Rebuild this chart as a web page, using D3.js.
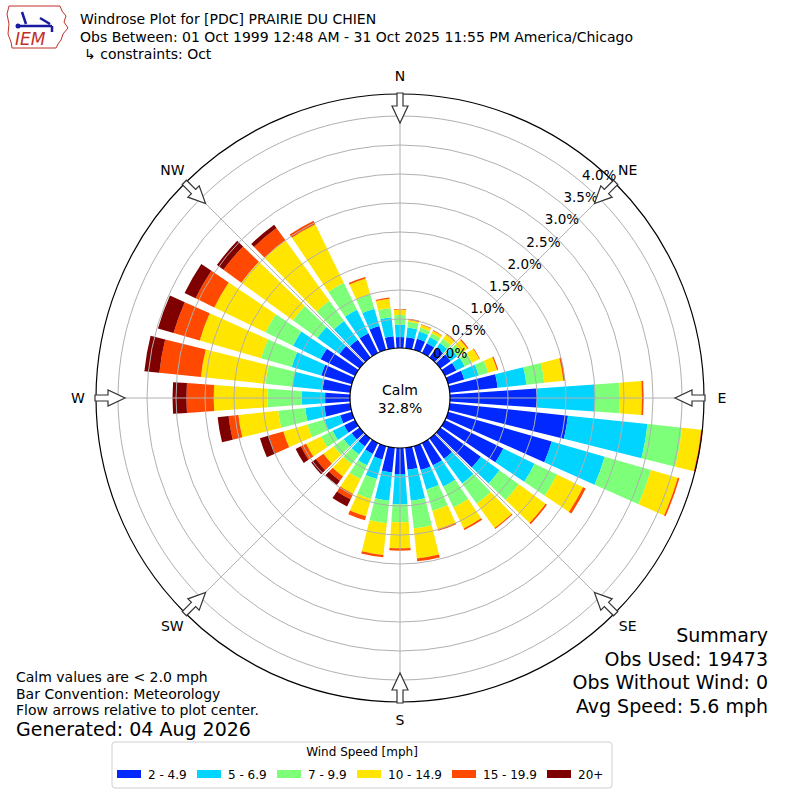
<!DOCTYPE html>
<html>
<head>
<meta charset="utf-8">
<script src="https://cdn.jsdelivr.net/npm/d3@7"></script>
<style>
  body { margin: 0; background: #fff; }
  text { font-family: "DejaVu Sans", sans-serif; }
</style>
</head>
<body>
<div id="chart"></div>
<script>
var width = 800, height = 800;

// directions (deg, meteorological) and speed bins
var directions = d3.range(0, 360, 10);
var speedBins = ["2 - 4.9", "5 - 6.9", "7 - 9.9", "10 - 14.9", "15 - 19.9", "20+"];
var binColors = ["#0028ff", "#00d4ff", "#7dff7a", "#ffe500", "#ff4800", "#7f0000"];

// percent of obs per direction, one array per speed bin
var bin2_5   = [0.19,0.19,0.20,0.19,0.21,0.22,0.22,0.29,0.83,1.50,2.05,1.86,1.12,0.86,0.43,0.43,0.43,0.38,
                0.45,0.43,0.24,0.21,0.17,0.17,0.21,0.21,0.45,0.43,0.48,0.55,0.66,0.43,0.38,0.38,0.43,0.21];
var bin5_7   = [0.21,0.17,0.13,0.12,0.10,0.14,0.16,0.26,0.50,1.00,1.38,0.95,0.60,0.40,0.53,0.41,0.35,0.54,
                0.52,0.49,0.35,0.22,0.17,0.17,0.22,0.28,0.33,0.40,0.52,0.53,0.53,0.47,0.40,0.45,0.31,0.33];
var bin7_10  = [0.17,0.10,0.07,0.07,0.09,0.10,0.14,0.17,0.31,0.43,0.60,0.83,0.43,0.41,0.43,0.40,0.38,0.48,
                0.31,0.39,0.36,0.26,0.21,0.21,0.22,0.31,0.47,0.59,0.47,0.55,0.53,0.52,0.43,0.52,0.26,0.16];
var bin10_15 = [0.09,0.03,0.05,0.05,0.09,0.12,0.14,0.16,0.33,0.38,0.33,0.48,0.50,0.57,0.52,0.40,0.33,0.52,
                0.45,0.55,0.31,0.29,0.26,0.22,0.29,0.43,0.69,0.93,1.12,1.10,0.98,1.10,1.29,1.12,0.28,0.16];
var bin15_20 = [0.01,0.02,0.01,0.01,0.02,0.02,0.01,0.02,0.03,0.03,0.03,0.03,0.05,0.03,0.02,0.03,0.03,0.05,
                0.04,0.04,0.07,0.10,0.09,0.16,0.10,0.26,0.17,0.47,0.72,0.47,0.36,0.38,0.26,0.07,0.03,0.02];
var bin20up  = [0,0,0,0,0,0,0,0,0,0,0,0,0,0,0,0,0,0,
                0,0,0,0.14,0.09,0.10,0.10,0.16,0.19,0.24,0.26,0.28,0.21,0.14,0.07,0,0,0];

var ringTicks = [0, 0.5, 1.0, 1.5, 2.0, 2.5, 3.0, 3.5, 4.0];
var compass = ["N", "NE", "E", "SE", "S", "SW", "W", "NW"];

var titleLines = ["Windrose Plot for [PDC] PRAIRIE DU CHIEN",
                  "Obs Between: 01 Oct 1999 12:48 AM - 31 Oct 2025 11:55 PM America/Chicago",
                  "\u21b3 constraints: Oct"];
var summaryLines = ["Summary", "Obs Used: 19473", "Obs Without Wind: 0", "Avg Speed: 5.6 mph"];
var noteLines = ["Calm values are < 2.0 mph", "Bar Convention: Meteorology", "Flow arrows relative to plot center."];
var calmPct = "32.8%";

var cx = 400, cy = 398;
var outerR = 304;

var svg = d3.select("#chart").append("svg")
  .attr("width", width)
  .attr("height", height);

var r = d3.scaleLinear().domain([0, 4]).range([50, 282]);

var rows = directions.map(function(d, i) {
  return {dir: d, b0: bin2_5[i], b1: bin5_7[i], b2: bin7_10[i], b3: bin10_15[i], b4: bin15_20[i], b5: bin20up[i]};
});
var keys = ["b0", "b1", "b2", "b3", "b4", "b5"];
var stacked = d3.stack().keys(keys)(rows);

var g = svg.append("g").attr("transform", "translate(" + cx + "," + cy + ")");
var rad = Math.PI / 180;

// bars
var arc = d3.arc()
  .innerRadius(function(d) { return r(d[0]); })
  .outerRadius(function(d) { return r(d[1]); })
  .startAngle(function(d) { return (d.data.dir - 4) * rad; })
  .endAngle(function(d) { return (d.data.dir + 4) * rad; });

g.append("g").selectAll("g")
  .data(stacked)
  .enter().append("g")
    .attr("fill", function(d, i) { return binColors[i]; })
  .selectAll("path")
  .data(function(d) { return d.filter(function(s) { return s[1] > s[0]; }); })
  .enter().append("path")
    .attr("d", arc);

// grid rings
g.append("g").selectAll("circle")
  .data(ringTicks.slice(1))
  .enter().append("circle")
    .attr("r", function(d) { return r(d); })
    .attr("fill", "none")
    .attr("stroke", "#b0b0b0")
    .attr("stroke-width", 1);

// radial lines every 45 deg
g.append("g").selectAll("line")
  .data(d3.range(0, 360, 45))
  .enter().append("line")
    .attr("x1", function(d) { return r(0) * Math.sin(d * rad); })
    .attr("y1", function(d) { return -r(0) * Math.cos(d * rad); })
    .attr("x2", function(d) { return outerR * Math.sin(d * rad); })
    .attr("y2", function(d) { return -outerR * Math.cos(d * rad); })
    .attr("stroke", "#b0b0b0")
    .attr("stroke-width", 1);

// outer circle
g.append("circle")
  .attr("r", outerR)
  .attr("fill", "none")
  .attr("stroke", "#000")
  .attr("stroke-width", 1.2);

// calm circle
g.append("circle")
  .attr("r", r(0))
  .attr("fill", "#fff")
  .attr("stroke", "#000")
  .attr("stroke-width", 1.2);

g.append("text")
  .attr("y", -3)
  .attr("text-anchor", "middle")
  .attr("font-size", 14)
  .text("Calm");
g.append("text")
  .attr("y", 15)
  .attr("text-anchor", "middle")
  .attr("font-size", 14)
  .text(calmPct);

// ring labels
g.append("g").selectAll("text")
  .data(ringTicks)
  .enter().append("text")
    .attr("x", function(d) { return r(d) * Math.sin(40 * rad) + 18; })
    .attr("y", function(d) { return -r(d) * Math.cos(40 * rad) - 7 + 5; })
    .attr("text-anchor", "middle")
    .attr("font-size", 13.5)
    .text(function(d) { return d.toFixed(1) + "%"; });

// flow arrows
var arrowPath = "M-3,-305 L3,-305 L3,-292 L8,-292 L0,-275 L-8,-292 L-3,-292 Z";
g.append("g").selectAll("path")
  .data(d3.range(0, 360, 45))
  .enter().append("path")
    .attr("d", arrowPath)
    .attr("transform", function(d) { return "rotate(" + d + ")"; })
    .attr("fill", "#fff")
    .attr("stroke", "#333")
    .attr("stroke-width", 1.2);

// compass labels
g.append("g").selectAll("text")
  .data(compass)
  .enter().append("text")
    .attr("x", function(d, i) { return 322 * Math.sin(i * 45 * rad); })
    .attr("y", function(d, i) { return -322 * Math.cos(i * 45 * rad) + 5; })
    .attr("text-anchor", "middle")
    .attr("font-size", 14)
    .text(function(d) { return d; });

// title
svg.append("g").selectAll("text")
  .data(titleLines)
  .enter().append("text")
    .attr("x", function(d, i) { return i == 2 ? 84 : 80; })
    .attr("y", function(d, i) { return 24 + i * 17.5; })
    .attr("font-size", 14)
    .text(function(d) { return d; });

// logo
var logo = svg.append("g").attr("transform", "translate(6,4)");
logo.append("path")
  .attr("d", "M3,2 L54,2 L56,7 L60,12 L58,18 L62,24 L57,30 L55,36 L52,40 L50,44 L6,44 L5,38 L2,30 L3,20 L1,10 Z")
  .attr("fill", "none")
  .attr("stroke", "#c0302a")
  .attr("stroke-width", 1);
logo.append("path")
  .attr("d", "M12,22 L46,22 M46,22 L46,28 M16,8 L20,20 M34,14 L44,20")
  .attr("stroke", "#1a1aa0")
  .attr("stroke-width", 2.5)
  .attr("fill", "none");
logo.append("circle").attr("cx", 12).attr("cy", 22).attr("r", 2.5).attr("fill", "#1a1aa0");
logo.append("text")
  .attr("x", 9)
  .attr("y", 41)
  .attr("font-family", "Liberation Serif, serif")
  .attr("font-style", "italic")
  .attr("font-size", 17)
  .attr("fill", "#c0302a")
  .text("IEM");

// summary block
svg.append("g").selectAll("text")
  .data(summaryLines)
  .enter().append("text")
    .attr("x", 768)
    .attr("y", function(d, i) { return 642 + i * 23.5; })
    .attr("text-anchor", "end")
    .attr("font-size", 19)
    .text(function(d) { return d; });

// notes
svg.append("g").selectAll("text")
  .data(noteLines)
  .enter().append("text")
    .attr("x", 16)
    .attr("y", function(d, i) { return 682 + i * 16.7; })
    .attr("font-size", 14)
    .text(function(d) { return d; });
svg.append("text")
  .attr("x", 16)
  .attr("y", 736)
  .attr("font-size", 19)
  .text("Generated: 04 Aug 2026");

// legend
var legend = svg.append("g");
legend.append("rect")
  .attr("x", 112).attr("y", 742)
  .attr("width", 500).attr("height", 46)
  .attr("rx", 3)
  .attr("fill", "#fff")
  .attr("stroke", "#d0d0d0");
legend.append("text")
  .attr("x", 362).attr("y", 756)
  .attr("text-anchor", "middle")
  .attr("font-size", 12)
  .text("Wind Speed [mph]");
var legX = [117, 197, 277, 357, 452, 547];
var items = legend.selectAll("g.item")
  .data(speedBins)
  .enter().append("g")
    .attr("transform", function(d, i) { return "translate(" + legX[i] + ",0)"; });
items.append("rect")
  .attr("y", 770).attr("width", 24).attr("height", 8)
  .attr("fill", function(d, i) { return binColors[i]; });
items.append("text")
  .attr("x", 31).attr("y", 778.5)
  .attr("font-size", 12)
  .text(function(d) { return d; });
</script>
</body>
</html>
